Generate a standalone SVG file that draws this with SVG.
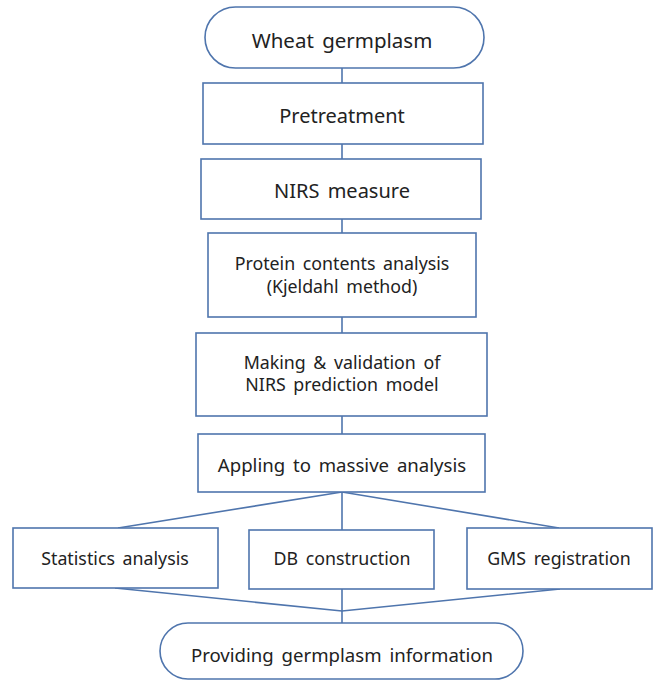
<svg xmlns="http://www.w3.org/2000/svg" width="660" height="680" viewBox="0 0 660 680">
<style>
.b{fill:#fff;stroke:#4f75ad;stroke-width:1.6}
.c{fill:none;stroke:#4f75ad;stroke-width:1.6}
.t{font-family:"Noto Sans","Open Sans",sans-serif;fill:#222;text-anchor:middle;word-spacing:3px}
.l{font-size:20px}
.m{font-size:18.6px}
.s{font-size:17.8px}
</style>
<rect width="660" height="680" fill="#fff"/>
<g id="connectors">
<line class="c" x1="342" y1="68" x2="342" y2="83"/>
<line class="c" x1="342" y1="144" x2="342" y2="159"/>
<line class="c" x1="342" y1="219" x2="342" y2="233"/>
<line class="c" x1="342" y1="317" x2="342" y2="333"/>
<line class="c" x1="342" y1="416" x2="342" y2="434"/>
<polyline class="c" points="118,528 342,492 559,528"/>
<line class="c" x1="342" y1="492" x2="342" y2="530"/>
<polyline class="c" points="115,588 342,611 560,589"/>
<line class="c" x1="342" y1="589" x2="342" y2="623"/>
</g>
<g id="n1"><rect class="b" x="205" y="7" width="279" height="61" rx="30.5"/><text class="t" style="font-size:20.5px" x="342" y="48">Wheat germplasm</text></g>
<g id="n2"><rect class="b" x="203" y="83" width="280" height="61"/><text class="t l" x="342" y="123">Pretreatment</text></g>
<g id="n3"><rect class="b" x="201" y="159" width="280" height="60"/><text class="t l" x="342" y="198">NIRS measure</text></g>
<g id="n4"><rect class="b" x="208" y="233" width="268" height="84"/><text class="t s" x="342" y="270">Protein contents analysis</text><text class="t s" x="342" y="293">(Kjeldahl method)</text></g>
<g id="n5"><rect class="b" x="196" y="333" width="291" height="83"/><text class="t s" x="342" y="369">Making &amp; validation of</text><text class="t s" x="342" y="391">NIRS prediction model</text></g>
<g id="n6"><rect class="b" x="198" y="434" width="287" height="58"/><text class="t m" x="342" y="472">Appling to massive analysis</text></g>
<g id="n7"><rect class="b" x="13" y="528" width="205" height="60"/><text class="t s" x="115" y="565">Statistics analysis</text></g>
<g id="n8"><rect class="b" x="249" y="530" width="185" height="59"/><text class="t s" x="342" y="565">DB construction</text></g>
<g id="n9"><rect class="b" x="467" y="528" width="185" height="61"/><text class="t s" x="559" y="565">GMS registration</text></g>
<g id="n10"><rect class="b" x="160" y="623" width="363" height="56" rx="28"/><text class="t m" x="342" y="662">Providing germplasm information</text></g>
</svg>
